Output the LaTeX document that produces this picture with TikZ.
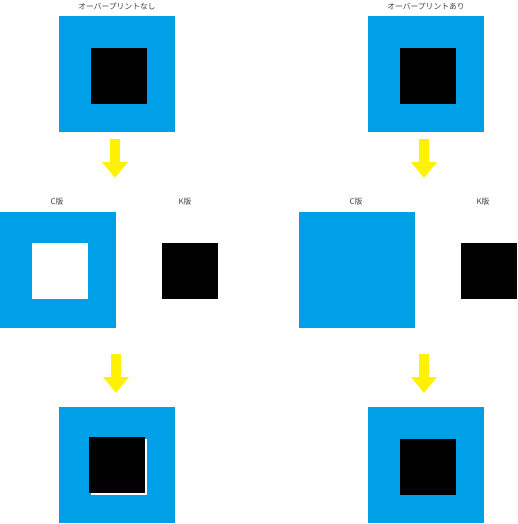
\documentclass[tikz,border=0pt]{standalone}
\usepackage{fontspec}
\newfontfamily\jpfont{Noto Sans CJK JP}
\usepackage{tikz}
\usetikzlibrary{arrows.meta}
\definecolor{cyanink}{RGB}{0,160,233}
\definecolor{yellowink}{RGB}{255,241,0}

\begin{document}
\begin{tikzpicture}[
    x=1pt, y=-1pt,
    plate/.style={fill=cyanink, minimum size=116pt, inner sep=0pt, outer sep=0pt, anchor=north west},
    ink/.style={fill=black, minimum size=56pt, inner sep=0pt, outer sep=0pt, anchor=north west},
    hole/.style={ink, fill=white},
    lbl/.style={font=\jpfont\fontsize{7.8}{8}\selectfont, text=black!75, inner sep=0pt},
    flow/.style={yellowink, line width=10pt, -{Triangle[width=25pt,length=16pt]}}
]
\useasboundingbox (0,0) rectangle (517,524);

% Without overprint
\node[lbl] (tl) at (117,6) {オーバープリントなし};
\node[plate] (C1) at (59,16) {};
\node[ink] (K1) at (91,48) {};
\coordinate (a1s) at (115,139);
\coordinate (a1e) at (115,178);
\draw[flow] (a1s) -- (a1e);

\node[lbl] (cl1) at (57,202) {C版};
\node[lbl] (kl1) at (185,202) {K版};
\node[plate] (C2) at (0,212) {};
\node[hole] (H2) at (32,243) {};
\node[ink] (K2) at (162,243) {};
\coordinate (a2s) at (116,354);
\coordinate (a2e) at (116,393);
\draw[flow] (a2s) -- (a2e);

\node[plate] (C3) at (59,407) {};
\node[hole] (H3) at (91,439) {};
\node[ink] (K3) at (89,437) {};

% With overprint
\node[lbl] (tr) at (426,6) {オーバープリントあり};
\node[plate] (C4) at (368,16) {};
\node[ink] (K4) at (400,48) {};
\coordinate (a3s) at (424,139);
\coordinate (a3e) at (424,178);
\draw[flow] (a3s) -- (a3e);

\node[lbl] (cl2) at (356,202) {C版};
\node[lbl] (kl2) at (483,202) {K版};
\node[plate] (C5) at (299,212) {};
\node[ink] (K5) at (461,243) {};
\coordinate (a4s) at (424,354);
\coordinate (a4e) at (424,393);
\draw[flow] (a4s) -- (a4e);

\node[plate] (C6) at (368,407) {};
\node[ink] (K6) at (400,439) {};
\end{tikzpicture}
\end{document}
